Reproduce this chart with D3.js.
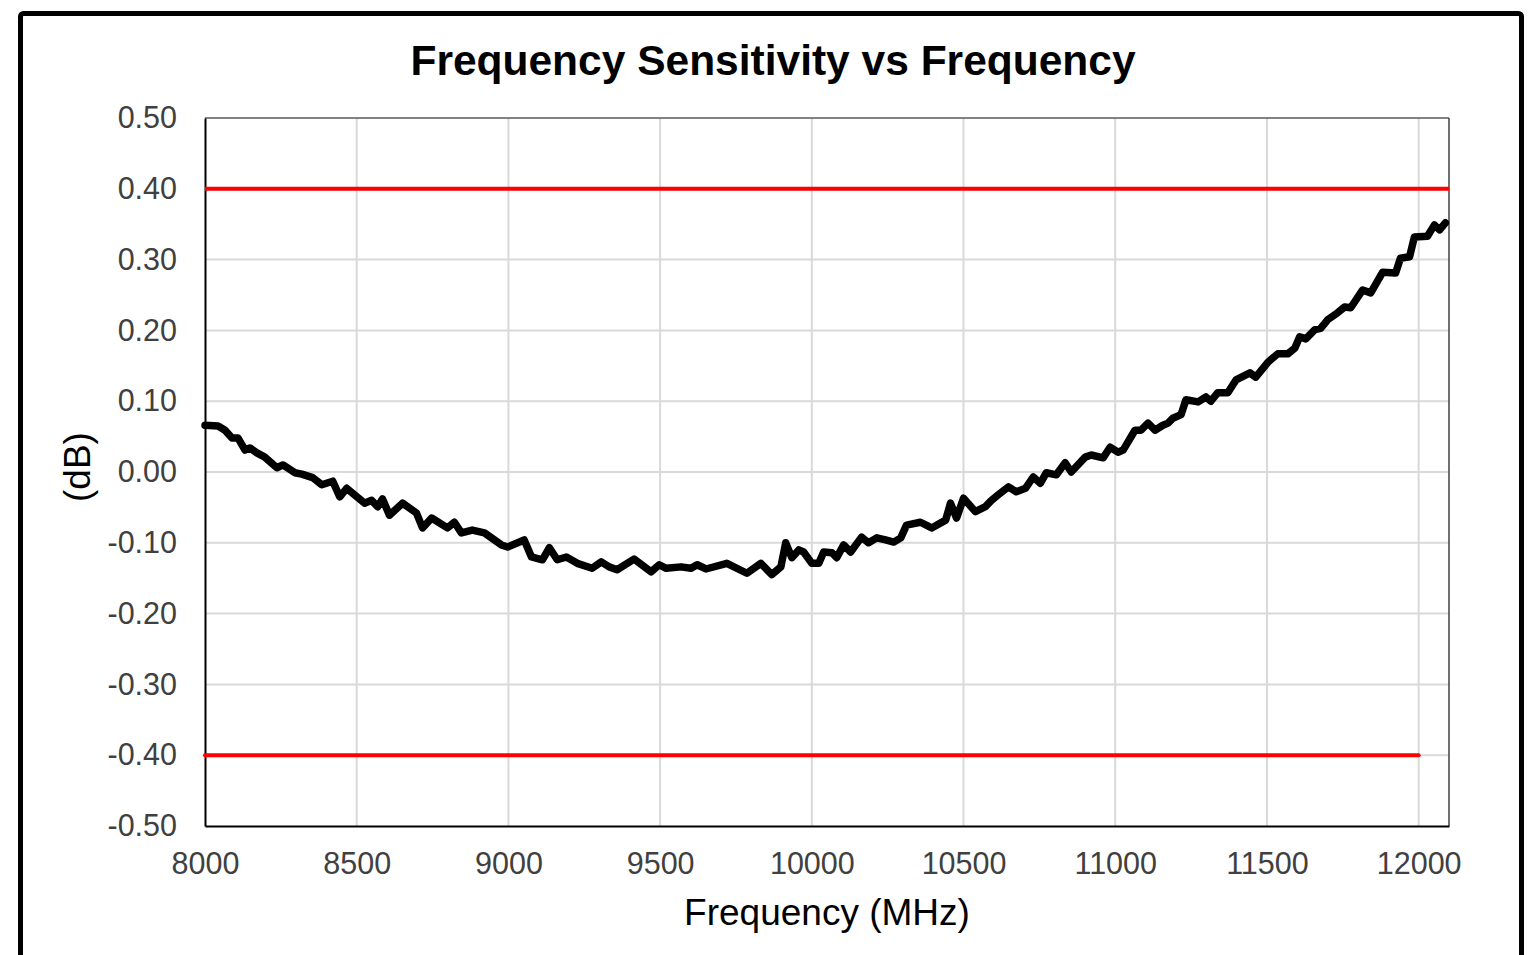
<!DOCTYPE html>
<html><head><meta charset="utf-8">
<script src="https://cdn.jsdelivr.net/npm/d3@7"></script>
<style>html,body{margin:0;padding:0;background:#fff;overflow:hidden}</style>
</head><body>
<svg id="c" width="1532" height="955"></svg>
<script>
const title = "Frequency Sensitivity vs Frequency";
const xTitle = "Frequency (MHz)";
const yTitle = "(dB)";
const xTicks = [8000, 8500, 9000, 9500, 10000, 10500, 11000, 11500, 12000];
const yTicks = [0.5, 0.4, 0.3, 0.2, 0.1, 0, -0.1, -0.2, -0.3, -0.4, -0.5];
const upperLimit = [[8000, 0.40], [12100, 0.40]];
const lowerLimit = [[8000, -0.40], [12000, -0.40]];
const freqs = [8000,8043,8066,8089,8109,8132,8148,8171,8197,8237,8257,8296,8319,8355,8385,8421,8444,8467,8526,8549,8569,8585,8608,8651,8697,8717,8747,8799,8822,8845,8881,8921,8977,8997,9052,9076,9112,9135,9161,9191,9227,9276,9306,9332,9358,9414,9470,9497,9520,9569,9602,9622,9651,9720,9786,9832,9868,9898,9914,9934,9957,9973,10000,10023,10039,10066,10082,10105,10128,10164,10187,10214,10243,10270,10293,10312,10358,10395,10441,10457,10477,10500,10539,10572,10592,10615,10648,10674,10704,10730,10753,10773,10806,10835,10855,10901,10921,10960,10983,11009,11026,11065,11085,11108,11131,11157,11174,11190,11217,11233,11273,11299,11315,11338,11371,11398,11444,11463,11503,11536,11569,11592,11608,11628,11658,11677,11700,11733,11756,11776,11815,11842,11881,11924,11940,11970,11986,12029,12052,12069,12088];
const sens = [0.066,0.065,0.059,0.048,0.048,0.031,0.034,0.027,0.021,0.006,0.010,-0.001,-0.003,-0.008,-0.018,-0.013,-0.035,-0.023,-0.044,-0.040,-0.049,-0.038,-0.061,-0.044,-0.058,-0.079,-0.065,-0.079,-0.071,-0.086,-0.082,-0.086,-0.103,-0.106,-0.096,-0.120,-0.124,-0.107,-0.124,-0.120,-0.129,-0.136,-0.127,-0.134,-0.138,-0.123,-0.141,-0.131,-0.136,-0.134,-0.136,-0.131,-0.137,-0.129,-0.143,-0.129,-0.145,-0.134,-0.100,-0.121,-0.110,-0.113,-0.129,-0.129,-0.113,-0.114,-0.121,-0.103,-0.113,-0.092,-0.100,-0.093,-0.096,-0.099,-0.093,-0.075,-0.071,-0.079,-0.068,-0.044,-0.065,-0.037,-0.056,-0.049,-0.040,-0.032,-0.021,-0.028,-0.023,-0.007,-0.016,-0.001,-0.004,0.013,0.000,0.021,0.024,0.020,0.035,0.028,0.031,0.059,0.059,0.069,0.059,0.066,0.069,0.076,0.081,0.102,0.099,0.106,0.100,0.112,0.112,0.130,0.140,0.134,0.155,0.167,0.167,0.175,0.191,0.188,0.201,0.203,0.215,0.225,0.233,0.232,0.257,0.253,0.282,0.281,0.302,0.304,0.332,0.333,0.349,0.342,0.352];

const svg = d3.select("#c");
const font = "'Liberation Sans', Arial, sans-serif";
const L = 205, R = 1449, T = 118, B = 826;
const x = d3.scaleLinear().domain([8000, 12100]).range([L, R]);
const y = d3.scaleLinear().domain([-0.5, 0.5]).range([B, T]);

// outer frame
svg.append("rect").attr("x", 20.5).attr("y", 13.5).attr("width", 1501).attr("height", 1100)
  .attr("rx", 3).attr("fill", "#fff").attr("stroke", "#000").attr("stroke-width", 5);

// gridlines
svg.append("g").selectAll("line").data(xTicks.slice(1)).join("line")
  .attr("x1", d => x(d)).attr("x2", d => x(d)).attr("y1", T).attr("y2", B)
  .attr("stroke", "#d9d9d9").attr("stroke-width", 2);
svg.append("g").selectAll("line").data(yTicks.filter(d => d > -0.5 && d < 0.5)).join("line")
  .attr("x1", L).attr("x2", R).attr("y1", d => y(d)).attr("y2", d => y(d))
  .attr("stroke", "#d9d9d9").attr("stroke-width", 2);

// plot border
svg.append("line").attr("x1", L).attr("x2", R).attr("y1", T).attr("y2", T).attr("stroke", "#595959").attr("stroke-width", 1.5);
svg.append("line").attr("x1", R).attr("x2", R).attr("y1", T).attr("y2", B).attr("stroke", "#404040").attr("stroke-width", 1.5);

// axes
const xAxis = d3.axisBottom(x).tickValues(xTicks).tickSize(0).tickPadding(26).tickFormat(d3.format("d"));
const gx = svg.append("g").attr("transform", `translate(0,${B})`).call(xAxis);
gx.select(".domain").attr("stroke", "#000").attr("stroke-width", 2);
gx.selectAll("text").attr("font-family", font).attr("font-size", 30.5).attr("fill", "#404040");

const yAxis = d3.axisLeft(y).tickValues(yTicks).tickSize(0).tickPadding(28).tickFormat(d3.format(".2f"));
const gy = svg.append("g").attr("transform", `translate(${L},0)`).call(yAxis);
gy.select(".domain").attr("stroke", "#000").attr("stroke-width", 2);
gy.selectAll("text").attr("font-family", font).attr("font-size", 30.5).attr("fill", "#404040")
  .text(d => d3.format(".2f")(d).replace("−", "-"));

// limit lines
const lim = d3.line().x(d => x(d[0])).y(d => y(d[1]));
svg.append("path").attr("d", lim(upperLimit)).attr("stroke", "#ff0000").attr("stroke-width", 4).attr("fill", "none");
svg.append("path").attr("d", lim(lowerLimit)).attr("stroke", "#ff0000").attr("stroke-width", 4).attr("fill", "none").attr("stroke-linecap", "round");

// data line
const pts = freqs.map((f, i) => [f, sens[i]]);
svg.append("path").attr("d", d3.line().x(d => x(d[0])).y(d => y(d[1]))(pts))
  .attr("fill", "none").attr("stroke", "#000").attr("stroke-width", 7.5).attr("stroke-linejoin", "round").attr("stroke-linecap", "round");

// titles
svg.append("text").attr("x", 773).attr("y", 75).attr("text-anchor", "middle")
  .attr("font-family", font).attr("font-weight", "bold").attr("font-size", 42.5).attr("fill", "#000").text(title);
svg.append("text").attr("x", 827).attr("y", 925).attr("text-anchor", "middle")
  .attr("font-family", font).attr("font-size", 37).attr("fill", "#000").text(xTitle);
svg.append("text").attr("transform", "translate(90,467) rotate(-90)").attr("text-anchor", "middle")
  .attr("font-family", font).attr("font-size", 37).attr("fill", "#000").text(yTitle);
</script>
</body></html>
